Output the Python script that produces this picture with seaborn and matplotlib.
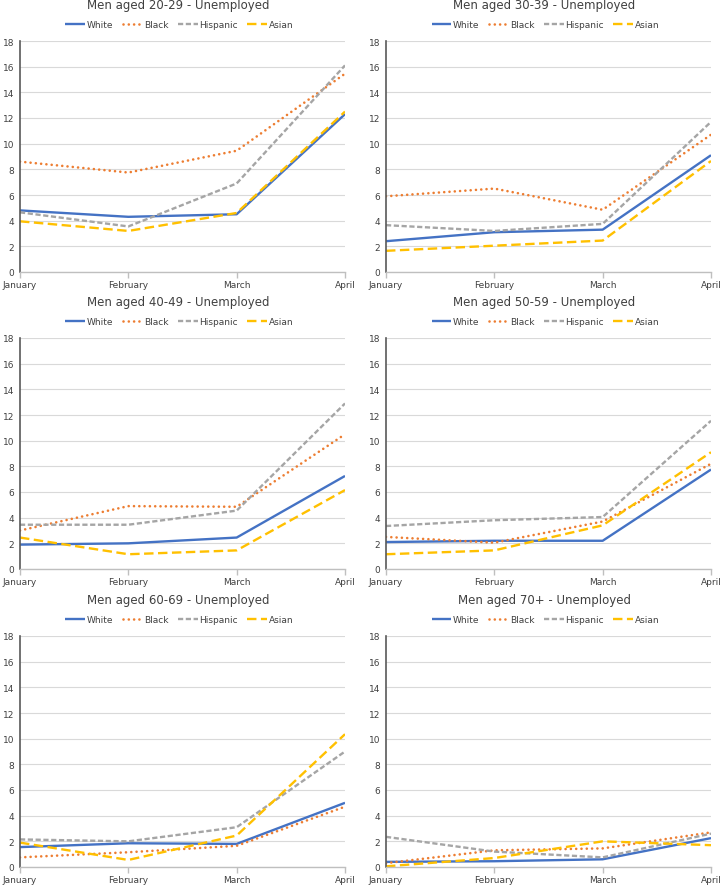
import matplotlib
matplotlib.use("Agg")
import matplotlib.pyplot as plt
import seaborn as sns
import pandas as pd

months = ["January", "February", "March", "April"]
races = ["White", "Black", "Hispanic", "Asian"]
titles = ["Men aged 20-29 - Unemployed", "Men aged 30-39 - Unemployed",
          "Men aged 40-49 - Unemployed", "Men aged 50-59 - Unemployed",
          "Men aged 60-69 - Unemployed", "Men aged 70+ - Unemployed"]
yticks = [0, 2, 4, 6, 8, 10, 12, 14, 16, 18]

white = [[4.8, 4.3, 4.5, 12.3], [2.4, 3.1, 3.3, 9.1], [1.9, 2.0, 2.45, 7.25],
         [2.1, 2.2, 2.2, 7.75], [1.55, 1.85, 1.8, 5.0], [0.4, 0.45, 0.6, 2.25]]
black = [[8.6, 7.75, 9.45, 15.45], [5.9, 6.5, 4.85, 10.7], [3.0, 4.9, 4.85, 10.5],
         [2.5, 2.05, 3.7, 8.2], [0.75, 1.15, 1.65, 4.7], [0.3, 1.3, 1.45, 2.7]]
hispanic = [[4.65, 3.55, 6.9, 16.1], [3.65, 3.2, 3.75, 11.7], [3.45, 3.45, 4.55, 12.9],
            [3.35, 3.8, 4.05, 11.55], [2.15, 2.0, 3.1, 9.0], [2.35, 1.2, 0.75, 2.6]]
asian = [[3.95, 3.2, 4.6, 12.5], [1.65, 2.05, 2.45, 8.65], [2.45, 1.15, 1.45, 6.15],
         [1.15, 1.45, 3.4, 9.1], [1.9, 0.55, 2.45, 10.35], [0.05, 0.7, 2.0, 1.7]]

palette = {"White": "#4472C4", "Black": "#ED7D31", "Hispanic": "#A5A5A5", "Asian": "#FFC000"}
dashes = {"White": "", "Black": (0.01, 2.0), "Hispanic": (2.2, 1.1), "Asian": (4.0, 1.9)}

sns.set_theme(style="white")
plt.rcParams["font.family"] = ["DejaVu Sans"]

W, H = 723, 887
fig = plt.figure(figsize=(W / 100, H / 100), dpi=100)
fig.patch.set_facecolor("white")

col_left = [20, 386]
row_top = [42, 339, 637]
aw, ah = 325, 231

for i in range(6):
    r, c = divmod(i, 2)
    x0 = col_left[c]
    y0 = row_top[r]
    ax = fig.add_axes([x0 / W, 1 - (y0 + ah) / H, aw / W, ah / H])
    ax.set_facecolor("white")
    rows = []
    for name, arr in zip(races, [white, black, hispanic, asian]):
        for m, v in zip(months, arr[i]):
            rows.append({"Month": m, "Rate": v, "Race": name})
    df = pd.DataFrame(rows)
    sns.lineplot(data=df, x="Month", y="Rate", hue="Race", style="Race",
                 hue_order=races, style_order=races, palette=palette,
                 dashes=dashes, linewidth=1.7, ax=ax, legend=False, sort=False)
    lines = ax.get_lines()[:4]
    for name, ln in zip(races, lines):
        if name == "Black":
            ln.set_dash_capstyle("round")
            ln.set_linewidth(1.9)
        else:
            ln.set_dash_capstyle("butt")
        ln.set_solid_capstyle("butt")
    ax.set_xlim(0, 3)
    ax.set_ylim(0, 18)
    ax.set_yticks(yticks)
    ax.set_xticks(range(4))
    ax.set_xticklabels(months)
    ax.set_xlabel("")
    ax.set_ylabel("")
    ax.grid(axis="y", color="#D9D9D9", linewidth=0.8)
    ax.set_axisbelow(True)
    for s in ["top", "right"]:
        ax.spines[s].set_visible(False)
    ax.spines["left"].set_color("#595959")
    ax.spines["left"].set_linewidth(1.2)
    ax.spines["bottom"].set_color("#BFBFBF")
    ax.spines["bottom"].set_linewidth(1.0)
    ax.tick_params(axis="y", length=0, labelsize=6.5, labelcolor="#404040", pad=4)
    ax.tick_params(axis="x", length=4, width=1, color="#BFBFBF", direction="out",
                   labelsize=6.5, labelcolor="#404040", pad=2, bottom=True)

    cx = x0 + aw / 2 - 4
    fig.text(cx / W, 1 - (y0 - 36) / H, titles[i], ha="center", va="center",
             fontsize=8.5, color="#404040")
    fig.legend(lines, races, loc="center", bbox_to_anchor=((cx + 1) / W, 1 - (y0 - 16.5) / H),
               ncol=4, frameon=False, fontsize=6.5, handlelength=2.2, handletextpad=0.2,
               columnspacing=1.0, borderaxespad=0, borderpad=0, labelcolor="#404040")

fig.savefig("out.png", dpi=100, facecolor="white")
